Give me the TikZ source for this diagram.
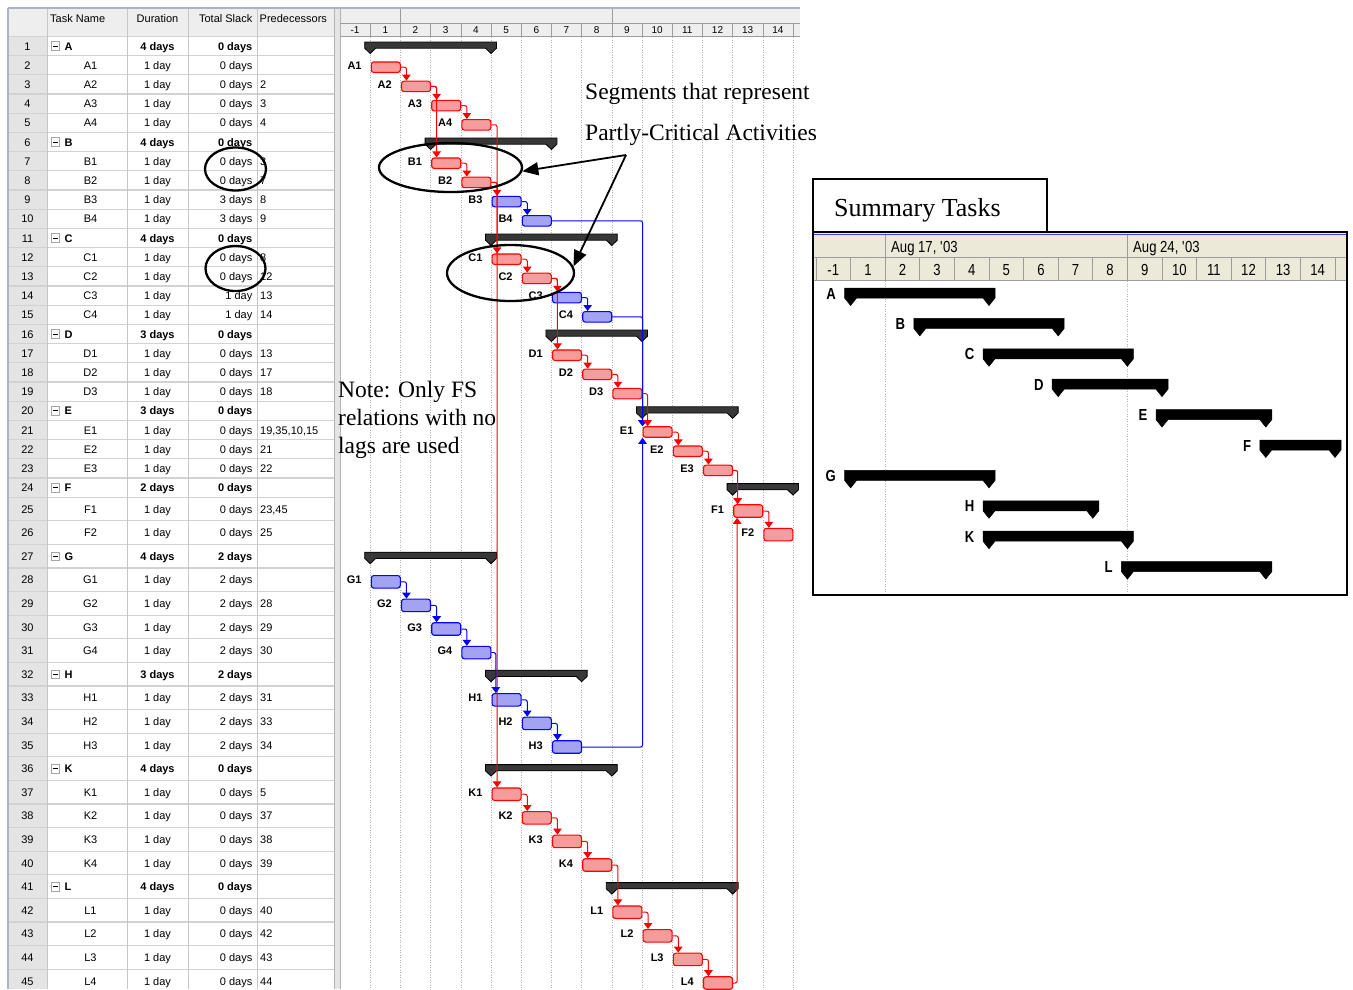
\documentclass[tikz,border=0pt]{standalone}
\usepackage{fontspec}
\setmainfont{Liberation Serif}
\newfontfamily\tabsans{Liberation Sans}
\newfontfamily\condsans[FakeStretch=0.82]{Liberation Sans}
\usetikzlibrary{arrows.meta,shapes.geometric}

\definecolor{hdrbg}{HTML}{EEEEEE}
\definecolor{numbg}{HTML}{E4E4E4}
\definecolor{tline}{HTML}{D2D2D2}
\definecolor{framegray}{HTML}{A8B4C8}
\definecolor{redfill}{HTML}{F59C9C}
\definecolor{bluefill}{HTML}{A3A3F2}
\definecolor{tsbg}{HTML}{ECE9D8}
\definecolor{tsline}{HTML}{9C9C9C}

\newcommand\tabfont{\tabsans\fontsize{11}{13}\selectfont}
\newcommand\tabbold{\tabsans\bfseries\fontsize{11}{13}\selectfont}

% vertical centre of table row #1 (rows 25 and below are taller)
\newcommand\rowc[1]{\pgfmathsetmacro\rowY{(#1)<25 ? 46+((#1)-1)*19.2 : 509+((#1)-25)*23.6}}

% summary row of the task table: row, name, duration, slack
\newcommand\srow[4]{%
  \rowc{#1}%
  \node[cell, anchor=base] (num#1) at (27.5,\rowY+4) {#1};
  \node[minusbox] (mb#1) at (55.5,\rowY) {};
  \draw[line width=0.8pt] ([xshift=-2.3pt]mb#1.center) -- ([xshift=2.3pt]mb#1.center);
  \node[cellb, anchor=base west] (n#1) at (64.5,\rowY+4) {#2};
  \node[cellb, anchor=base] (d#1) at (157.5,\rowY+4) {#3};
  \node[cellb, anchor=base east] (s#1) at (252.5,\rowY+4) {#4};
}
% ordinary task row: row, name, duration, slack, predecessors
\newcommand\trow[5]{%
  \rowc{#1}%
  \node[cell, anchor=base] (num#1) at (27.5,\rowY+4) {#1};
  \node[cell, anchor=base] (n#1) at (90.5,\rowY+4) {#2};
  \node[cell, anchor=base] (d#1) at (157.5,\rowY+4) {#3};
  \node[cell, anchor=base east] (s#1) at (252.5,\rowY+4) {#4};
  \if\relax\detokenize{#5}\relax\else
    \node[cell, anchor=base west] (p#1) at (260,\rowY+4) {#5};
  \fi
}
% task bar in the Gantt chart: row, day column, bar style, label
\newcommand\gtask[4]{%
  \rowc{#1}%
  \pgfmathsetmacro\barH{(#1)<25 ? 10.5 : 12.5}%
  \pgfmathsetmacro\barX{340+((#2)+0.5)*30.2+0.5}%
  \node[#3, minimum height=\barH pt] (b#1) at (\barX,\rowY+2) {};
  \node[glabel] (l#1) at (\barX-24,\rowY+4) {#4};
}
% summary bar in the Gantt chart: row, first day, last day
\newcommand\gsum[3]{%
  \rowc{#1}%
  \pgfmathsetmacro\gsA{340+(#2)*30.2}%
  \pgfmathsetmacro\gsB{340+((#3)+1)*30.2}%
  \filldraw[gsumbar] (\gsA-5.5,\rowY-4) -- (\gsB+5.5,\rowY-4) -- (\gsB+5.5,\rowY+2.2)
     -- (\gsB,\rowY+7.5) -- (\gsB-5.5,\rowY+2.2) -- (\gsA+5.5,\rowY+2.2)
     -- (\gsA,\rowY+7.5) -- (\gsA-5.5,\rowY+2.2) -- cycle;
}
% summary bar of the overview panel: line, label, first day, last day
\newcommand\psum[4]{%
  \pgfmathsetmacro\pY{293+(#1)*30.4}%
  \pgfmathsetmacro\pA{816+(#3)*34.6}%
  \pgfmathsetmacro\pB{816+((#4)+1)*34.6}%
  \filldraw[psumbar] (\pA-6,\pY-5) -- (\pB+6,\pY-5) -- (\pB+6,\pY+5) -- (\pB,\pY+12.5)
     -- (\pB-6,\pY+5) -- (\pA+6,\pY+5) -- (\pA,\pY+12.5) -- (\pA-6,\pY+5) -- cycle;
  \node[plabel] (pl#1) at (\pA-14.5,\pY+6) {#2};
}

\begin{document}
\begin{tikzpicture}[x=1pt, y=-1pt,
  cell/.style={font=\tabfont, inner sep=0pt},
  cellb/.style={font=\tabbold, inner sep=0pt},
  minusbox/.style={draw=gray!70, fill=white, minimum size=8.5pt, inner sep=0pt, line width=0.6pt},
  tgrid/.style={draw=tline, line width=1.2pt},
  vgrid/.style={draw=gray!45, line width=0.8pt},
  rbar/.style={draw=red, fill=redfill, rounded corners=2.5pt, line width=1.1pt, inner sep=0pt, minimum width=29pt},
  bbar/.style={draw=blue, fill=bluefill, rounded corners=2.5pt, line width=1.1pt, inner sep=0pt, minimum width=29pt},
  glabel/.style={font=\tabsans\bfseries\fontsize{11}{13}\selectfont, inner sep=0pt, anchor=base east},
  rlink/.style={draw=red, line width=1pt, rounded corners=2pt, -{Triangle[width=8.5pt,length=6pt]}},
  blink/.style={draw=blue, line width=1pt, rounded corners=2pt, -{Triangle[width=8.5pt,length=6pt]}},
  gsumbar/.style={fill=black!78, draw=black, line width=0.8pt},
  psumbar/.style={fill=black, draw=black, line width=0.5pt},
  plabel/.style={font=\condsans\bfseries\fontsize{16}{18}\selectfont, inner sep=0pt, anchor=base east},
  tsfont/.style={font=\condsans\fontsize{16}{18}\selectfont, inner sep=0pt},
  hdrnum/.style={font=\tabsans\fontsize{10}{12}\selectfont, inner sep=0pt, anchor=base},
  ggrid/.style={draw=gray!60, line width=0.6pt, dash pattern=on 1pt off 1.5pt},
  oval/.style={ellipse, draw=black, line width=2.3pt, inner sep=0pt},
  callout/.style={draw=black, line width=1.8pt, -{Triangle[length=16pt,width=13pt]}},
  bigtext/.style={font=\fontsize{23.5}{28}\selectfont, inner sep=0pt, anchor=base west}]

\useasboundingbox (0,0) rectangle (1353,989);
\fill[white] (0,0) rectangle (1353,989);

% ---------------- task table ----------------
\fill[hdrbg] (8,8) rectangle (334,36.4);
\fill[numbg] (8,36.4) rectangle (47,989);
\fill[gray!20] (334,8) rectangle (340,989);
\foreach \k in {0,...,24} \draw[tgrid] (8,36.4+\k*19.2) -- (334,36.4+\k*19.2);
\foreach \k in {1,...,21} \draw[tgrid] (8,497.2+\k*23.6) -- (334,497.2+\k*23.6);
\foreach \xx in {47,127,188,257} \draw[vgrid] (\xx,8) -- (\xx,989);
\draw[gray!60, line width=0.8pt] (334,8) -- (334,989);
\draw[gray!60, line width=0.8pt] (340,8) -- (340,989);
\draw[framegray, line width=1.5pt] (8,8) -- (8,989);
\draw[framegray, line width=1.2pt] (8,8) -- (800,8);

\node[cell, anchor=base west] (hName) at (50,22) {Task Name};
\node[cell, anchor=base] (hDur) at (157.5,22) {Duration};
\node[cell, anchor=base east] (hSlack) at (252.5,22) {Total Slack};
\node[cell, anchor=base west] (hPred) at (259.5,22) {Predecessors};

\srow{1}{A}{4 days}{0 days}
\trow{2}{A1}{1 day}{0 days}{}
\trow{3}{A2}{1 day}{0 days}{2}
\trow{4}{A3}{1 day}{0 days}{3}
\trow{5}{A4}{1 day}{0 days}{4}
\srow{6}{B}{4 days}{0 days}
\trow{7}{B1}{1 day}{0 days}{3}
\trow{8}{B2}{1 day}{0 days}{7}
\trow{9}{B3}{1 day}{3 days}{8}
\trow{10}{B4}{1 day}{3 days}{9}
\srow{11}{C}{4 days}{0 days}
\trow{12}{C1}{1 day}{0 days}{8}
\trow{13}{C2}{1 day}{0 days}{12}
\trow{14}{C3}{1 day}{1 day}{13}
\trow{15}{C4}{1 day}{1 day}{14}
\srow{16}{D}{3 days}{0 days}
\trow{17}{D1}{1 day}{0 days}{13}
\trow{18}{D2}{1 day}{0 days}{17}
\trow{19}{D3}{1 day}{0 days}{18}
\srow{20}{E}{3 days}{0 days}
\trow{21}{E1}{1 day}{0 days}{19,35,10,15}
\trow{22}{E2}{1 day}{0 days}{21}
\trow{23}{E3}{1 day}{0 days}{22}
\srow{24}{F}{2 days}{0 days}
\trow{25}{F1}{1 day}{0 days}{23,45}
\trow{26}{F2}{1 day}{0 days}{25}
\srow{27}{G}{4 days}{2 days}
\trow{28}{G1}{1 day}{2 days}{}
\trow{29}{G2}{1 day}{2 days}{28}
\trow{30}{G3}{1 day}{2 days}{29}
\trow{31}{G4}{1 day}{2 days}{30}
\srow{32}{H}{3 days}{2 days}
\trow{33}{H1}{1 day}{2 days}{31}
\trow{34}{H2}{1 day}{2 days}{33}
\trow{35}{H3}{1 day}{2 days}{34}
\srow{36}{K}{4 days}{0 days}
\trow{37}{K1}{1 day}{0 days}{5}
\trow{38}{K2}{1 day}{0 days}{37}
\trow{39}{K3}{1 day}{0 days}{38}
\trow{40}{K4}{1 day}{0 days}{39}
\srow{41}{L}{4 days}{0 days}
\trow{42}{L1}{1 day}{0 days}{40}
\trow{43}{L2}{1 day}{0 days}{42}
\trow{44}{L3}{1 day}{0 days}{43}
\trow{45}{L4}{1 day}{0 days}{44}

% ---------------- Gantt timescale ----------------
\fill[hdrbg] (340.5,8.6) rectangle (800,36.4);
\draw[tsline, line width=0.6pt] (340,22.8) -- (800,22.8);
\draw[tsline, line width=0.6pt] (340,36.4) -- (800,36.4);
\foreach \k in {1,...,15} \draw[tsline, line width=0.6pt] (340+\k*30.2,22.8) -- (340+\k*30.2,36.4);
\draw[tsline, line width=0.6pt] (400.4,8.6) -- (400.4,22.8);
\draw[tsline, line width=0.6pt] (611.8,8.6) -- (611.8,22.8);
\foreach \k/\t in {0/-1,1/1,2/2,3/3,4/4,5/5,6/6,7/7,8/8,9/9,10/10,11/11,12/12,13/13,14/14}
  \node[hdrnum] (gh\k) at (340+\k*30.2+15.1,33.2) {\t};
\foreach \k in {1,...,15} \draw[ggrid] (340+\k*30.2,37) -- (340+\k*30.2,989);

% ---------------- summary bars ----------------
\gsum{1}{1}{4}
\gsum{6}{3}{6}
\gsum{11}{5}{8}
\gsum{16}{7}{9}
\gsum{20}{10}{12}
\gsum{24}{13}{14}
\gsum{27}{1}{4}
\gsum{32}{5}{7}
\gsum{36}{5}{8}
\gsum{41}{9}{12}

% ---------------- task bars ----------------
\gtask{2}{1}{rbar}{A1}
\gtask{3}{2}{rbar}{A2}
\gtask{4}{3}{rbar}{A3}
\gtask{5}{4}{rbar}{A4}
\gtask{7}{3}{rbar}{B1}
\gtask{8}{4}{rbar}{B2}
\gtask{9}{5}{bbar}{B3}
\gtask{10}{6}{bbar}{B4}
\gtask{12}{5}{rbar}{C1}
\gtask{13}{6}{rbar}{C2}
\gtask{14}{7}{bbar}{C3}
\gtask{15}{8}{bbar}{C4}
\gtask{17}{7}{rbar}{D1}
\gtask{18}{8}{rbar}{D2}
\gtask{19}{9}{rbar}{D3}
\gtask{21}{10}{rbar}{E1}
\gtask{22}{11}{rbar}{E2}
\gtask{23}{12}{rbar}{E3}
\gtask{25}{13}{rbar}{F1}
\gtask{26}{14}{rbar}{F2}
\gtask{28}{1}{bbar}{G1}
\gtask{29}{2}{bbar}{G2}
\gtask{30}{3}{bbar}{G3}
\gtask{31}{4}{bbar}{G4}
\gtask{33}{5}{bbar}{H1}
\gtask{34}{6}{bbar}{H2}
\gtask{35}{7}{bbar}{H3}
\gtask{37}{5}{rbar}{K1}
\gtask{38}{6}{rbar}{K2}
\gtask{39}{7}{rbar}{K3}
\gtask{40}{8}{rbar}{K4}
\gtask{42}{9}{rbar}{L1}
\gtask{43}{10}{rbar}{L2}
\gtask{44}{11}{rbar}{L3}
\gtask{45}{12}{rbar}{L4}

% ---------------- finish-to-start links ----------------
\draw[rlink] (b2.east) -| ([xshift=5.5pt]b3.north west);
\draw[rlink] (b3.east) -| ([xshift=5.5pt]b4.north west);
\draw[rlink] (b4.east) -| ([xshift=5.5pt]b5.north west);
\draw[rlink] (b3.east) -| ([xshift=5.5pt]b7.north west);
\draw[rlink] (b7.east) -| ([xshift=5.5pt]b8.north west);
\draw[rlink] (b5.east) -| ([xshift=5.5pt]b37.north west);
\draw[rlink] (b8.east) -| ([xshift=5.5pt]b12.north west);
\draw[rlink] (b8.east) -| ([xshift=5.5pt]b9.north west);
\draw[blink] (b9.east) -| ([xshift=5.5pt]b10.north west);
\draw[rlink] (b12.east) -| ([xshift=5.5pt]b13.north west);
\draw[rlink] (b13.east) -| ([xshift=5.5pt]b17.north west);
\draw[rlink] (b13.east) -| ([xshift=5.5pt]b14.north west);
\draw[blink] (b14.east) -| ([xshift=5.5pt]b15.north west);
\draw[rlink] (b17.east) -| ([xshift=5.5pt]b18.north west);
\draw[rlink] (b18.east) -| ([xshift=5.5pt]b19.north west);
\draw[blink] (b10.east) -| (b21.north west);
\draw[blink] (b15.east) -| (b21.north west);
\draw[blink] (b35.east) -| (b21.south west);
\draw[rlink] (b19.east) -| ([xshift=5pt]b21.north west);
\draw[rlink] (b21.east) -| ([xshift=5.5pt]b22.north west);
\draw[rlink] (b22.east) -| ([xshift=5.5pt]b23.north west);
\draw[rlink] (b23.east) -| ([xshift=4.5pt]b25.north west);
\draw[rlink] (b45.east) -| ([xshift=4pt]b25.south west);
\draw[rlink] (b25.east) -| ([xshift=5.5pt]b26.north west);
\draw[blink] (b28.east) -| ([xshift=5.5pt]b29.north west);
\draw[blink] (b29.east) -| ([xshift=5.5pt]b30.north west);
\draw[blink] (b30.east) -| ([xshift=5.5pt]b31.north west);
\draw[blink] (b31.east) -| ([xshift=4.3pt]b33.north west);
\draw[blink] (b33.east) -| ([xshift=5.5pt]b34.north west);
\draw[blink] (b34.east) -| ([xshift=5.5pt]b35.north west);
\draw[rlink] (b37.east) -| ([xshift=5.5pt]b38.north west);
\draw[rlink] (b38.east) -| ([xshift=5.5pt]b39.north west);
\draw[rlink] (b39.east) -| ([xshift=5.5pt]b40.north west);
\draw[rlink] (b40.east) -| ([xshift=5.5pt]b42.north west);
\draw[rlink] (b42.east) -| ([xshift=5.5pt]b43.north west);
\draw[rlink] (b43.east) -| ([xshift=5.5pt]b44.north west);
\draw[rlink] (b44.east) -| ([xshift=5.5pt]b45.north west);

% ---------------- annotations ----------------
\node[bigtext] (segA) at (585,99) {Segments that represent};
\node[bigtext] (segB) at (585,140) {Partly-Critical Activities};
\node[bigtext] (noteA) at (338,397) {Note: Only FS};
\node[bigtext] (noteB) at (338,425) {relations with no};
\node[bigtext] (noteC) at (338,453) {lags are used};

\node[oval, minimum width=61pt, minimum height=43pt] (ovT1) at (235.5,169) {};
\node[oval, minimum width=60pt, minimum height=45pt] (ovT2) at (235.5,268.5) {};
\node[oval, minimum width=143pt, minimum height=49pt] (ovB) at (450.5,167.5) {};
\node[oval, minimum width=127pt, minimum height=56pt] (ovC) at (510.5,273) {};
\coordinate (src) at (626,155);
\draw[callout] (src) -- (ovB.-3);
\draw[callout] (src) -- (ovC.6);

% ---------------- summary overview panel ----------------
\fill[white] (813,232) rectangle (1347,595);
\fill[tsbg] (814,233) rectangle (1346,280);
\draw[blue!75, line width=1.2pt] (814,234.5) -- (1346,234.5);
\draw[tsline, line width=0.7pt] (814,257) -- (1346,257);
\draw[tsline, line width=0.7pt] (814,280) -- (1346,280);
\foreach \k in {0,...,15} \draw[tsline, line width=0.7pt] (816+\k*34.6,257) -- (816+\k*34.6,280);
\draw[tsline, line width=0.7pt] (885.2,235) -- (885.2,257);
\draw[tsline, line width=0.7pt] (1127.4,235) -- (1127.4,257);
\node[tsfont, anchor=base west] (wk1) at (891,252) {Aug 17, \textquotesingle 03};
\node[tsfont, anchor=base west] (wk2) at (1133,252) {Aug 24, \textquotesingle 03};
\foreach \k/\t in {0/-1,1/1,2/2,3/3,4/4,5/5,6/6,7/7,8/8,9/9,10/10,11/11,12/12,13/13,14/14}
  \node[tsfont, anchor=base] (pd\k) at (816+\k*34.6+17.3,275) {\t};
\draw[ggrid] (885.2,281) -- (885.2,594);
\draw[ggrid] (1127.4,281) -- (1127.4,594);

\psum{0}{A}{1}{4}
\psum{1}{B}{3}{6}
\psum{2}{C}{5}{8}
\psum{3}{D}{7}{9}
\psum{4}{E}{10}{12}
\psum{5}{F}{13}{14}
\psum{6}{G}{1}{4}
\psum{7}{H}{5}{7}
\psum{8}{K}{5}{8}
\psum{9}{L}{9}{12}

\draw[black, line width=2pt] (813,232) rectangle (1347,595);
\draw[black, line width=2pt] (813,179) rectangle (1047,232);
\node[font=\fontsize{26}{30}\selectfont, inner sep=0pt, anchor=base west] (sumtxt) at (834,216) {Summary Tasks};
\end{tikzpicture}
\end{document}
